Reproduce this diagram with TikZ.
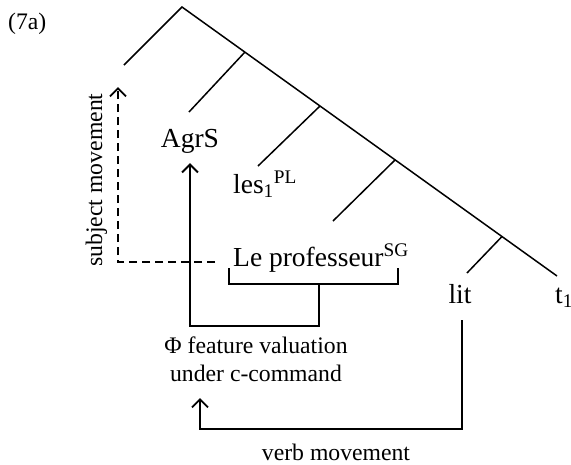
\documentclass[tikz,border=0pt]{standalone}
\usepackage{fontspec}
\setmainfont{Liberation Serif}
\usetikzlibrary{
  arrows.meta
}

\begin{document}
\begin{tikzpicture}[
  x=1pt, y=-1pt,
  every node/.style={inner sep=0pt, font=\fontsize{27.5}{33}\selectfont},
  note/.style={font=\fontsize{23.7}{28}\selectfont},
  branch/.style={line width=1.5pt},
  move/.style={line width=1.9pt, -{Straight Barb[length=8pt,width=16pt]}},
  ]
\useasboundingbox (0,0) rectangle (571,464);
% spine and empty leaves
\coordinate (s0) at (182,7);
\coordinate (s1) at (245,52);
\coordinate (s2) at (320,106);
\coordinate (s3) at (395,160);
\coordinate (s4) at (502,236.5);
\coordinate (l0) at (124,65);
\coordinate (l1) at (189,112);
\coordinate (l2) at (258,166);
\coordinate (l3) at (333,221);
\coordinate (l4) at (467,273);
\coordinate (l5) at (557,276);

\node[anchor=base] (agrs) at (190,147) {AgrS};
\node[anchor=base west] (les) at (233,193) {les\textsubscript{1}\textsuperscript{PL}};
\node[anchor=base west] (prof) at (233,266) {Le professeur\textsuperscript{SG}};
\node[anchor=base] (lit) at (460,303) {lit};
\node[anchor=base west] (t1) at (555,303) {t\textsubscript{1}};

\node[note, anchor=base west] (num) at (8,29) {(7a)};
\node[note, anchor=base, rotate=90] (subj) at (102,180) {subject movement};
\node[note, anchor=north, align=center] (val) at (256,337) {Φ feature valuation\\under c-command};
\node[note, anchor=base] (verb) at (336,460) {verb movement};

\draw[branch] (l0) -- (s0) -- (l5);
\foreach \s/\l in {s1/l1, s2/l2, s3/l3, s4/l4}
  \draw[branch] (\s) -- (\l);

% bracket under the subject
\coordinate (bl) at (229,268);
\coordinate (br) at (398,268);
\coordinate (brk) at (319,284);
\draw[branch] (bl) |- (brk) -| (br);

% movements
\coordinate (dsh) at (215,262);
\coordinate (spec) at (118,87);
\coordinate (vb) at (200,429);
\draw[move, dash pattern=on 8pt off 5pt] (dsh) -| (spec);
\draw[move] (brk) -- ++(0,42) -| ([yshift=-10pt]agrs.south);
\draw[move] ([xshift=2pt,yshift=-17pt]lit.south) |- (vb) -- ++(0,-31);
\end{tikzpicture}
\end{document}
